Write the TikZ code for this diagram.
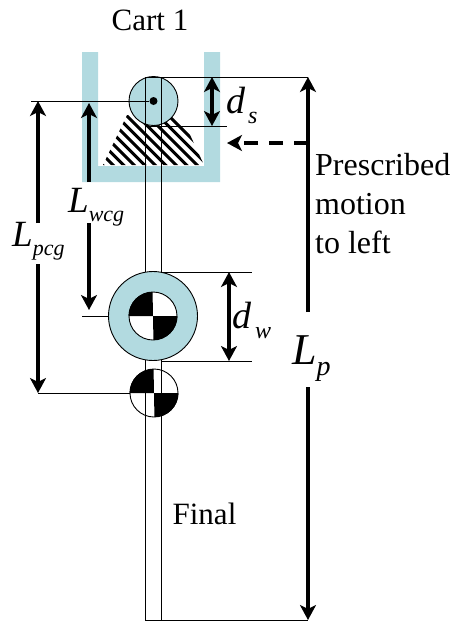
\documentclass[tikz,border=0pt]{standalone}
\usepackage{fontspec}
\setmainfont{Liberation Serif}
\usepackage{xcolor}
\usetikzlibrary{arrows.meta}
\definecolor{LightBlue}{RGB}{178, 218, 224}
\newcommand{\symlabel}[4]{{\fontsize{#3}{#3}\selectfont\itshape #1\raisebox{-0.27em}{\fontsize{#4}{#4}\selectfont #2}}}
\tikzset{
    thinline/.style = {line width = 0.9pt},
    bighead/.tip = {Stealth[length = 15pt, width = 16pt, inset = 4pt]},
    dimarrow/.style = {line width = 3.4pt, bighead-bighead},
    onearrow/.style = {line width = 3.4pt, -bighead},
    plaintext/.style = {font = \fontsize{31}{33}\selectfont, inner sep = 0pt},
    symtext/.style = {anchor = base west, inner sep = 0pt}
}
\begin{document}
\begin{tikzpicture}[x = 1pt, y = -1pt]
    \useasboundingbox (0, 0) rectangle (453, 622);
    %画小车
    \fill[LightBlue] (82, 52) -- (98, 52) -- (98, 166) -- (204, 166) -- (204, 52) -- (220, 52) -- (220, 182) -- (82, 182) -- cycle;
    %画斜线块
    \begin{scope}
        \clip (103, 165) -- (127, 115) -- (177, 115) -- (185, 124) -- (204, 165) -- cycle;
        \foreach \i in {0, ..., 16} {
            \draw[line width = 3pt] (\i * 10.5 - 10, 105) -- (\i * 10.5 + 60, 175);
        }
    \end{scope}
    %标注坐标
    \coordinate (rodTL) at (145, 77);
    \coordinate (rodTR) at (161, 77);
    \coordinate (rodBL) at (145, 620);
    \coordinate (rodBR) at (161, 620);
    \coordinate (topEnd) at (308, 77);
    \coordinate (baseEnd) at (308, 620);
    \coordinate (lpUpper) at (308, 312);
    \coordinate (lpLower) at (308, 387);
    \coordinate (sLeft) at (145, 126);
    \coordinate (sRight) at (161, 126);
    \coordinate (sEnd) at (227, 126);
    \coordinate (sTop) at (212, 77);
    \coordinate (sBot) at (212, 126);
    \coordinate (pinEnd) at (31, 101);
    \coordinate (pcgTop) at (38, 101);
    \coordinate (pcgUpper) at (38, 223);
    \coordinate (pcgLower) at (38, 264);
    \coordinate (pcgBot) at (38, 393);
    \coordinate (wcgTop) at (89, 103);
    \coordinate (wcgFoot) at (89, 182);
    \coordinate (wcgStart) at (89, 223);
    \coordinate (wcgBot) at (89, 310);
    \coordinate (wTickEnd) at (82, 316);
    \coordinate (wTop) at (161, 272);
    \coordinate (wBot) at (161, 361);
    \coordinate (wTopEnd) at (252, 272);
    \coordinate (wBotEnd) at (252, 361);
    \coordinate (wArrTop) at (229, 272);
    \coordinate (wArrBot) at (229, 361);
    \coordinate (moveStart) at (308, 143);
    \coordinate (moveEnd) at (227, 143);
    %画连杆
    \draw[thinline] (rodTL) -- (rodBL) -- (rodBR) -- (rodTR);
    %画滑轮
    \fill[LightBlue] (153.5, 101) circle (24.5);
    \draw[thinline] (rodTL) -- (sLeft);
    \draw[thinline] (rodTR) -- (sRight);
    \node[circle, draw, line width = 0.9pt, minimum size = 49pt, inner sep = 0pt] (pulley) at (153.5, 101) {};
    \node[circle, fill, minimum size = 8pt, inner sep = 0pt] (pin) at (153.5, 101) {};
    %画重心轮
    \node[circle, draw, fill = LightBlue, line width = 0.9pt, minimum size = 89pt, inner sep = 0pt] (wheel) at (153, 316) {};
    \node[circle, draw, fill = white, line width = 0.9pt, minimum size = 48pt, inner sep = 0pt] (wheelcg) at (153, 316) {};
    \fill (wheelcg.center) -- (wheelcg.west) arc (180 : 270 : 24) -- cycle;
    \fill (wheelcg.center) -- (wheelcg.east) arc (0 : 90 : 24) -- cycle;
    \node[circle, draw, line width = 0.9pt, minimum size = 48pt, inner sep = 0pt] (rodcg) at (154, 393) {};
    \fill (rodcg.center) -- (rodcg.west) arc (180 : 270 : 24) -- cycle;
    \fill (rodcg.center) -- (rodcg.east) arc (0 : 90 : 24) -- cycle;
    %标注尺寸线
    \draw[thinline] (rodTL) -- (topEnd);
    \draw[thinline] (rodBL) -- (baseEnd);
    \draw[thinline] (sLeft) -- (sEnd);
    \draw[thinline] (pinEnd) -- (pin);
    \draw[thinline] (wTickEnd) -- (wheel.west);
    \draw[thinline] (wTop) -- (wTopEnd);
    \draw[thinline] (wBot) -- (wBotEnd);
    \draw[thinline] (pcgBot) -- (rodcg.west);
    %画箭头
    \draw[dimarrow] (sTop) -- (sBot);
    \draw[dimarrow] (wArrTop) -- (wArrBot);
    \draw[onearrow] (lpUpper) -- (topEnd);
    \draw[onearrow] (lpLower) -- (baseEnd);
    \draw[onearrow] (pcgUpper) -- (pcgTop);
    \draw[onearrow] (pcgLower) -- (pcgBot);
    \draw[onearrow] (wcgFoot) -- (wcgTop);
    \draw[onearrow] (wcgStart) -- (wcgBot);
    \draw[onearrow, dash pattern = on 14pt off 11pt] (moveStart) -- (moveEnd);
    %标注文字
    \node[plaintext] (cart) at (150, 20) {Cart 1};
    \node[plaintext] (final) at (204.5, 514) {Final};
    \node[plaintext, font = \fontsize{32}{33}\selectfont, anchor = west, align = left] (motion) at (315, 204) {Prescribed\\[6pt]motion\\[6pt]to left};
    \node[symtext] (ds) at (226, 113) {\symlabel{d\kern 3pt}{s}{38}{24}};
    \node[symtext] (dw) at (232, 328) {\symlabel{d\kern 4pt}{w}{38}{24}};
    \node[symtext] (lp) at (292, 364) {\symlabel{L}{p}{44}{28}};
    \node[symtext] (lwcg) at (68, 212) {\symlabel{L}{wcg}{37}{22}};
    \node[symtext] (lpcg) at (12, 246) {\symlabel{L}{pcg}{37}{22}};
\end{tikzpicture}
\end{document}
